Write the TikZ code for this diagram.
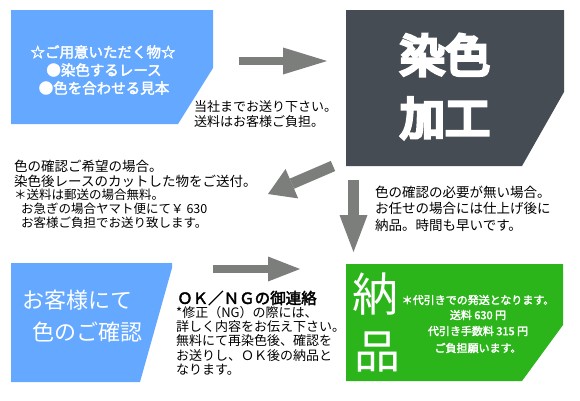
\documentclass[tikz,border=0pt]{standalone}
\usepackage{fontspec}
\setmainfont{Noto Sans CJK JP}
\newfontfamily\jpbold[FakeBold=2.5]{Noto Sans CJK JP}
\newfontfamily\jpheavy[FakeBold=8]{Noto Sans CJK JP}
\usetikzlibrary{arrows.meta}
\definecolor{boxblue}{RGB}{100,168,255}
\definecolor{boxdark}{RGB}{70,76,83}
\definecolor{boxgreen}{RGB}{44,180,27}
\definecolor{arrowgray}{RGB}{123,126,122}
\newcommand{\fsz}[1]{\fontsize{#1}{#1}\selectfont}
\tikzset{
  blockarrow/.style n args={3}{draw=arrowgray,line width=#1,
    -{Triangle[length=#2,width=#3,line width'=0pt]}},
  txt/.style={anchor=west,inner sep=0pt,font=\fsz{#1}},
  wtxt/.style={inner sep=0pt,text=white,font=\fsz{#1}},
}
\begin{document}
\begin{tikzpicture}[x=1pt,y=-1pt]
\useasboundingbox[fill=white] (0,0) rectangle (580,400);
% boxes
\fill[boxblue] (11,10) -- (213,10) -- (213,68) -- (178,124) -- (11,124) -- cycle;
\fill[boxdark] (346,10) -- (564,10) -- (564,92) -- (522,166) -- (346,166) -- cycle;
\fill[boxblue] (11,263) -- (172,263) -- (172,268) -- (140,382) -- (11,382) -- cycle;
\fill[boxgreen] (346,264) -- (563,264) -- (563,325) -- (522,381) -- (346,381) -- cycle;
% arrows
\coordinate(A1s) at (239,61);  \coordinate(A1e) at (327,61);
\coordinate(A2s) at (333,166); \coordinate(A2e) at (268,194);
\coordinate(A3s) at (353.5,180); \coordinate(A3e) at (353.5,252);
\coordinate(A4s) at (213,269); \coordinate(A4e) at (300,269);
\draw[blockarrow={8pt}{44pt}{27pt}] (A1s) -- (A1e);
\draw[blockarrow={11pt}{26pt}{32pt}] (A2s) -- (A2e);
\draw[blockarrow={11pt}{37pt}{28pt}] (A3s) -- (A3e);
\draw[blockarrow={8pt}{32pt}{25pt}] (A4s) -- (A4e);
% top left
\node[wtxt=14.5,font=\jpbold\fsz{14.5}](U1) at (103,52){☆ご用意いただく物☆};
\node[wtxt=14.5,font=\jpbold\fsz{14.5}](U2) at (104,70){●染色するレース};
\node[wtxt=14.5,font=\jpbold\fsz{14.5}](U3) at (104,88){●色を合わせる見本};
\node[txt=13](S1) at (194,107){当社までお送り下さい。};
\node[txt=13](S2) at (194,122){送料はお客様ご負担。};
% top right
\node[wtxt=45,font=\jpheavy\fsz{45}](D1) at (445,55){染色};
\node[wtxt=45,font=\jpheavy\fsz{45}](D2) at (445,118){加工};
% middle
\node[txt=13.5](M1) at (14,166){色の確認ご希望の場合。};
\node[txt=13.5](M2) at (14,181){染色後レースのカットした物をご送付。};
\node[txt=12.5](M3) at (14,195){＊送料は郵送の場合無料。};
\node[txt=12.5](M4) at (21,209){お急ぎの場合ヤマト便にて￥ 630};
\node[txt=12.5](M5) at (21,223){お客様ご負担でお送り致します。};
\node[txt=13.5](R1) at (375,192){色の確認の必要が無い場合。};
\node[txt=13.5](R2) at (375,208){お任せの場合には仕上げ後に};
\node[txt=13.5](R3) at (375,225){納品。時間も早いです。};
% bottom left
\node[wtxt=22,anchor=west](B1) at (22,300){お客様にて};
\node[wtxt=22,anchor=west](B2) at (32,332){色のご確認};
\node[txt=15.5,font=\jpbold\fsz{15.5}](C0) at (177,298){ＯＫ／ＮＧの御連絡};
\node[txt=13](C1) at (176,313){*修正（NG）の際には、};
\node[txt=13](C2) at (176,327){詳しく内容をお伝え下さい。};
\node[txt=13](C3) at (176,341){無料にて再染色後、確認を};
\node[txt=13](C4) at (176,356){お送りし、ＯＫ後の納品と};
\node[txt=13](C5) at (176,370){なります。};
% bottom right
\node[wtxt=46](G1) at (375,294){納};
\node[wtxt=46](G2) at (377,352){品};
\node[wtxt=11,font=\jpbold\fsz{11}](N1) at (478,300){＊代引きでの発送となります。};
\node[wtxt=11,font=\jpbold\fsz{11}](N2) at (478,315){送料 630 円};
\node[wtxt=11,font=\jpbold\fsz{11}](N3) at (478,331){代引き手数料 315 円};
\node[wtxt=11,font=\jpbold\fsz{11}](N4) at (478,348){ご負担願います。};
\end{tikzpicture}
\end{document}
